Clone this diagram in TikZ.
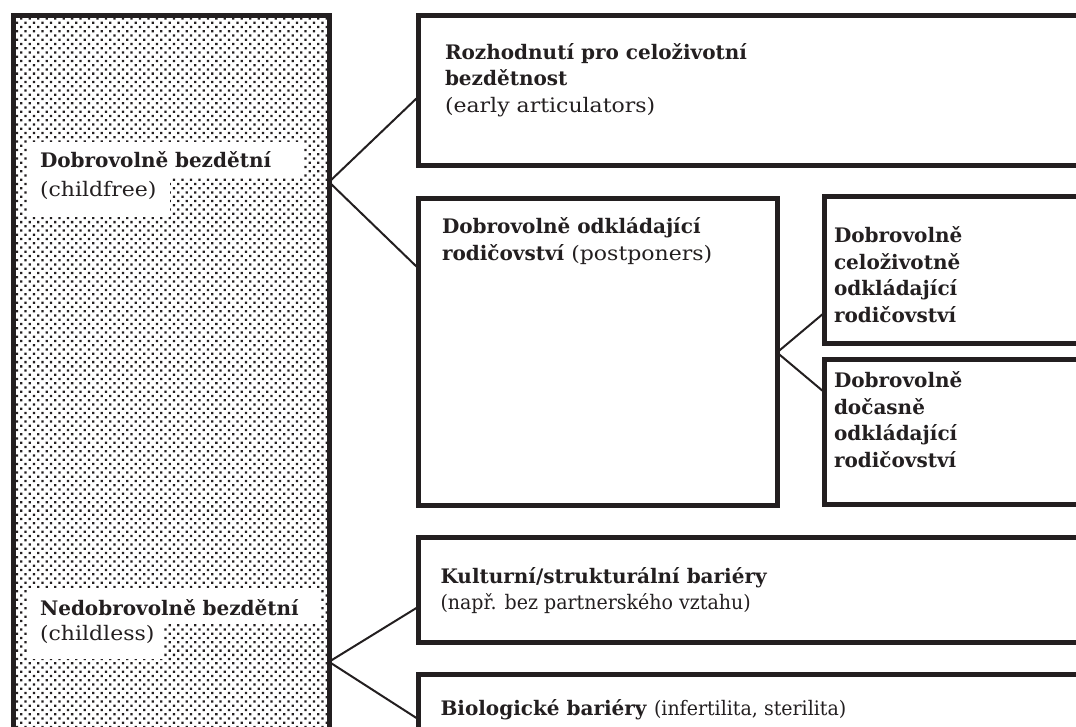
\documentclass[tikz,border=0pt]{standalone}
\usepackage{fontspec}
\setmainfont{DejaVu Serif}[UprightFeatures={FakeStretch=1.1}]
\newfontfamily\condfont{DejaVu Serif}[FakeStretch=0.95]
\usetikzlibrary{patterns.meta}
\definecolor{ink}{HTML}{231F20}

\begin{document}
\begin{tikzpicture}[x=1pt,y=-1pt,
    every node/.style={outer sep=0pt},
    frame/.style={draw=ink,line width=5pt,rectangle,anchor=north west,inner sep=0pt},
    txt/.style={anchor=north west,align=left,inner sep=0pt,text=ink,font=\fontsize{20}{26.5}\selectfont},
    lbl/.style={fill=white,anchor=base west,align=left,inner xsep=12pt,inner ysep=0pt,text=ink,font=\fontsize{20}{26}\selectfont},
    link/.style={draw=ink,line width=2pt}]
    \useasboundingbox (0,0) rectangle (1076,727);
    \clip (0,0) rectangle (1076,727);

    % left column
    \node[frame,pattern={Dots[distance=6pt,radius=1.6pt,angle=45]},pattern color=ink,
          minimum width=316pt,minimum height=760pt] (all) at (13,15.8) {};
    \node[lbl,text width=251pt,text height=26pt,text depth=10pt] (free) at (28,168) {\textbf{Dobrovolně bezdětní}};
    \node[lbl,text width=118pt,text height=19pt,text depth=20pt] (freeen) at (28,197) {(childfree)};
    \node[lbl,text width=268pt,text height=27pt,text depth=9pt] (less) at (28,615) {\textbf{Nedobrovolně bezdětní}};
    \node[lbl,text width=111pt,text height=18pt,text depth=19pt] (lessen) at (28,640) {(childless)};

    % boxes
    \node[frame,minimum width=700pt,minimum height=149.7pt] (early) at (418,15.8) {};
    \node[frame,minimum width=359pt,minimum height=307pt] (post) at (418,198.5) {};
    \node[frame,minimum width=300pt,minimum height=146.5pt] (life) at (824,197) {};
    \node[frame,minimum width=300pt,minimum height=145pt] (temp) at (824,359.5) {};
    \node[frame,minimum width=700pt,minimum height=105pt] (cult) at (418,537) {};
    \node[frame,minimum width=700pt,minimum height=100pt] (bio) at (418,674.5) {};

    \node[txt] (earlyt) at ([xshift=27pt,yshift=-27.7pt]early.north west)
        {\textbf{Rozhodnutí pro celoživotní}\\\textbf{bezdětnost}\\(early articulators)};
    \node[txt] (postt) at ([xshift=24pt,yshift=-19.5pt]post.north west)
        {\textbf{Dobrovolně odkládající}\\\textbf{rodičovství} (postponers)};
    \node[txt] (lifet) at ([xshift=10pt,yshift=-30pt]life.north west)
        {\textbf{Dobrovolně}\\\textbf{celoživotně}\\\textbf{odkládající}\\\textbf{rodičovství}};
    \node[txt] (tempt) at ([xshift=10pt,yshift=-12.5pt]temp.north west)
        {\textbf{Dobrovolně}\\\textbf{dočasně}\\\textbf{odkládající}\\\textbf{rodičovství}};
    \node[txt] (cultt) at ([xshift=22.5pt,yshift=-30pt]cult.north west)
        {\textbf{Kulturní/strukturální bariéry}\\{\condfont (např. bez partnerského vztahu)}};
    \node[txt] (biot) at ([xshift=22.5pt,yshift=-24.5pt]bio.north west)
        {\textbf{Biologické bariéry} {\condfont (infertilita, sterilita)}};

    % connectors
    \path[link] ([yshift=-166.2pt]all.north east)
        edge ([yshift=-81.2pt]early.north west)
        edge ([yshift=-69.5pt]post.north west);
    \path[link] ([yshift=-154pt]post.north east)
        edge ([yshift=-116pt]life.north west)
        edge ([yshift=-32.5pt]temp.north west);
    \path[link] ([yshift=-646pt]all.north east)
        edge ([yshift=-70pt]cult.north west)
        edge ([yshift=-44.5pt]bio.north west);
\end{tikzpicture}
\end{document}
